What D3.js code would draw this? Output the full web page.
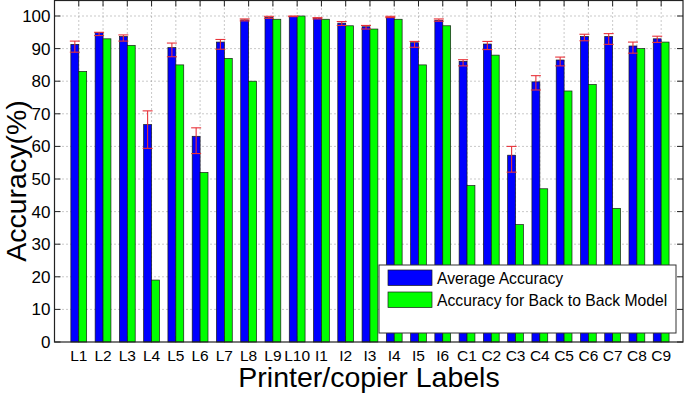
<!DOCTYPE html>
<html>
<head>
<meta charset="utf-8">
<script src="https://cdn.jsdelivr.net/npm/d3@7"></script>
<style>
  body { margin: 0; background: #fff; }
  text { font-family: "Liberation Sans", Arial, Helvetica, sans-serif; fill: #000; }
</style>
</head>
<body>
<div class="chart"></div>
<script>
//Grouped bar chart: average accuracy vs back-to-back model accuracy per printer/copier
var labels = ["L1", "L2", "L3", "L4", "L5", "L6", "L7", "L8", "L9", "L10",
  "I1", "I2", "I3", "I4", "I5", "I6",
  "C1", "C2", "C3", "C4", "C5", "C6", "C7", "C8", "C9"];

var avgAccuracy = [91.3, 94.9, 93.7, 66.7, 90.3, 63.1, 92.0, 98.8, 99.6, 99.9,
  99.3, 97.8, 96.7, 99.6, 91.8, 98.7,
  86.1, 91.4, 57.3, 79.8, 86.5, 93.7, 93.7, 90.8, 93.0];

var backToBack = [83, 93, 91, 19, 85, 52, 87, 80, 99, 100,
  99, 97, 96, 99, 85, 97,
  48, 88, 36, 47, 77, 79, 41, 90, 92];

// error bar ends around the average accuracy
var errHigh = [92.3, 95.0, 94.2, 70.9, 91.7, 65.7, 92.8, 99.1, 99.9, 100,
  99.5, 98.3, 97.1, 99.9, 92.2, 99.1,
  86.6, 92.2, 60.0, 81.7, 87.4, 94.4, 94.6, 92.0, 93.8];
var errLow = [88.9, 94.0, 92.3, 59.4, 87.5, 57.8, 89.8, 98.5, 99.3, 99.8,
  99.1, 97.1, 96.0, 99.5, 90.4, 98.4,
  84.7, 89.7, 52.1, 77.3, 84.7, 92.4, 91.3, 88.6, 91.9];

var yTicks = [0, 10, 20, 30, 40, 50, 60, 70, 80, 90, 100];
var seriesNames = ["Average Accuracy", "Accuracy for Back to Back Model"];
var seriesColors = ["#0000ff", "#00ff00"];

var svgWidth = 685;
var svgHeight = 395;
var plotLeft = 54.5, plotRight = 683, plotTop = 0.5, plotBottom = 342;

var svg = d3.select(".chart")
  .append("svg")
  .attr("width", svgWidth)
  .attr("height", svgHeight);

//x is positional (1..25), like the original bar plot
var x = d3.scaleLinear().domain([0, 25.9]).range([plotLeft, plotRight]);
var y = d3.scaleLinear().domain([0, 100]).range([plotBottom, 16]);
var barW = 7.9;

// grid lines (dotted, below bars)
var grid = svg.append("g").attr("class", "grid");
grid.selectAll(".gy").data(yTicks.slice(1)).enter().append("line")
  .attr("x1", plotLeft).attr("x2", plotRight)
  .attr("y1", function(d) { return y(d); })
  .attr("y2", function(d) { return y(d); })
  .attr("stroke", "#777").attr("stroke-width", 0.8)
  .attr("stroke-dasharray", "1,3");
grid.selectAll(".gx").data(labels).enter().append("line")
  .attr("x1", function(d, i) { return x(i + 1); })
  .attr("x2", function(d, i) { return x(i + 1); })
  .attr("y1", plotTop).attr("y2", plotBottom)
  .attr("stroke", "#777").attr("stroke-width", 0.8)
  .attr("stroke-dasharray", "1,3");

// tick marks pointing inward
var ticks = svg.append("g").attr("stroke", "#222").attr("stroke-width", 1);
yTicks.forEach(function(t) {
  ticks.append("line").attr("x1", plotLeft).attr("x2", plotLeft + 6)
    .attr("y1", y(t)).attr("y2", y(t));
  ticks.append("line").attr("x1", plotRight).attr("x2", plotRight - 6)
    .attr("y1", y(t)).attr("y2", y(t));
});
labels.forEach(function(l, i) {
  ticks.append("line").attr("x1", x(i + 1)).attr("x2", x(i + 1))
    .attr("y1", plotTop).attr("y2", plotTop + 6);
  ticks.append("line").attr("x1", x(i + 1)).attr("x2", x(i + 1))
    .attr("y1", plotBottom).attr("y2", plotBottom - 6);
});

// bars
var bars = svg.append("g");
[avgAccuracy, backToBack].forEach(function(series, s) {
  bars.selectAll(".bar" + s).data(series).enter().append("rect")
    .attr("x", function(d, i) { return x(i + 1) - barW + s * barW; })
    .attr("y", function(d) { return y(d); })
    .attr("width", barW)
    .attr("height", function(d) { return y(0) - y(d); })
    .attr("fill", seriesColors[s])
    .attr("stroke", "#1a1a1a")
    .attr("stroke-width", 0.7);
});

// error bars on the average accuracy bars
var err = svg.append("g").attr("stroke", "#e8333a").attr("stroke-width", 1.1);
labels.forEach(function(l, i) {
  var cx = x(i + 1) - barW / 2;
  err.append("line").attr("x1", cx).attr("x2", cx)
    .attr("y1", y(errLow[i])).attr("y2", y(errHigh[i]));
  [errLow[i], errHigh[i]].forEach(function(v) {
    err.append("line").attr("x1", cx - 5).attr("x2", cx + 5)
      .attr("y1", y(v)).attr("y2", y(v));
  });
});

// axes box
svg.append("rect")
  .attr("x", plotLeft).attr("y", plotTop)
  .attr("width", plotRight - plotLeft).attr("height", plotBottom - plotTop)
  .attr("fill", "none").attr("stroke", "#222").attr("stroke-width", 1.2);

// tick labels
svg.selectAll(".ylab").data(yTicks).enter().append("text")
  .attr("x", plotLeft - 4)
  .attr("y", function(d) { return y(d) + 6; })
  .attr("text-anchor", "end")
  .style("font-size", "17px")
  .text(function(d) { return d; });

svg.selectAll(".xlab").data(labels).enter().append("text")
  .attr("x", function(d, i) { return x(i + 1); })
  .attr("y", 361)
  .attr("text-anchor", "middle")
  .style("font-size", "15.5px")
  .text(function(d) { return d; });

// axis titles
svg.append("text")
  .attr("transform", "translate(" + 26 + "," + 181 + ") rotate(-90)")
  .attr("text-anchor", "middle")
  .style("font-size", "28.5px")
  .text("Accuracy(%)");

svg.append("text")
  .attr("x", 369).attr("y", 387)
  .attr("text-anchor", "middle")
  .style("font-size", "28.5px")
  .text("Printer/copier Labels");

// legend
var legend = svg.append("g");
legend.append("rect")
  .attr("x", 379).attr("y", 265).attr("width", 297).attr("height", 68)
  .attr("fill", "#fff").attr("stroke", "#333").attr("stroke-width", 1);
seriesNames.forEach(function(name, s) {
  legend.append("rect")
    .attr("x", 388).attr("y", 270 + s * 22)
    .attr("width", 44).attr("height", 15.5)
    .attr("fill", seriesColors[s]).attr("stroke", "#1a1a1a").attr("stroke-width", 0.7);
  legend.append("text")
    .attr("x", 437).attr("y", 284 + s * 22)
    .style("font-size", "15.7px")
    .text(name);
});
</script>
</body>
</html>
